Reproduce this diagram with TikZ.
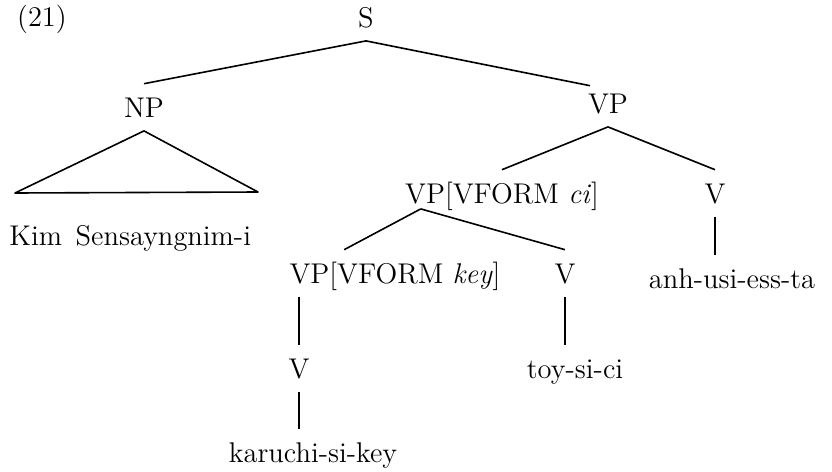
\documentclass[tikz,border=0pt]{standalone}
\usepackage{tikz}
\tikzset{
  treefont/.style={font=\fontsize{14.25}{17}\selectfont},
  catnode/.style={treefont, inner xsep=0pt, inner ysep=6.75pt, text height=9.7pt, text depth=0pt, anchor=base},
  wordnode/.style={catnode},
  branch/.style={line width=0.8pt, line join=round}
}

\begin{document}
\begin{tikzpicture}[x=0.5pt, y=-0.5pt]
  \useasboundingbox (0,0) rectangle (832,472);
  \node[catnode] (exno) at (42,26) {(21)};
  % categories
  \node[catnode] (s) at (366,27) {S};
  \node[catnode] (np) at (144,117) {NP};
  \node[catnode] (vp) at (608,113) {VP};
  \node[catnode] (vpci) at (502,203) {VP[VFORM \textit{ci}]};
  \node[catnode] (vr) at (715,203) {V};
  \node[catnode] (vpkey) at (395,283) {VP[VFORM \textit{key}]};
  \node[catnode] (vm) at (565,283) {V};
  \node[catnode] (vk) at (299,378) {V};
  % words
  \node[wordnode, anchor=base west] (kim) at (9,245) {Kim\hspace{0.15em} Sensayngnim-i};
  \node[wordnode] (anh) at (732,288) {anh-usi-ess-ta};
  \node[wordnode] (toy) at (575,378) {toy-si-ci};
  \node[wordnode] (karuchi) at (313,462) {karuchi-si-key};
  \coordinate (tl) at (15,193);
  \coordinate (tr) at (258,192);
  % branches
  \draw[branch] (s.south) -- (np.north);
  \draw[branch] (s.south) -- ([xshift=-9pt, yshift=-3pt]vp.north);
  \draw[branch] (np.south) -- (tl) -- (tr) -- cycle;
  \draw[branch] (vp.south) -- (vpci.north);
  \draw[branch] (vp.south) -- (vr.north);
  \draw[branch] (vr.south) -- (vr.south |- anh.north);
  \draw[branch] ([xshift=8pt, yshift=4pt]vpci.south west) -- ([xshift=27.5pt]vpkey.north west);
  \draw[branch] ([xshift=8pt, yshift=4pt]vpci.south west) -- (vm.north);
  \draw[branch] (vk.north |- vpkey.south) -- (vk.north);
  \draw[branch] (vm.south) -- (vm.south |- toy.north);
  \draw[branch] (vk.south) -- (vk.south |- karuchi.north);
\end{tikzpicture}
\end{document}
